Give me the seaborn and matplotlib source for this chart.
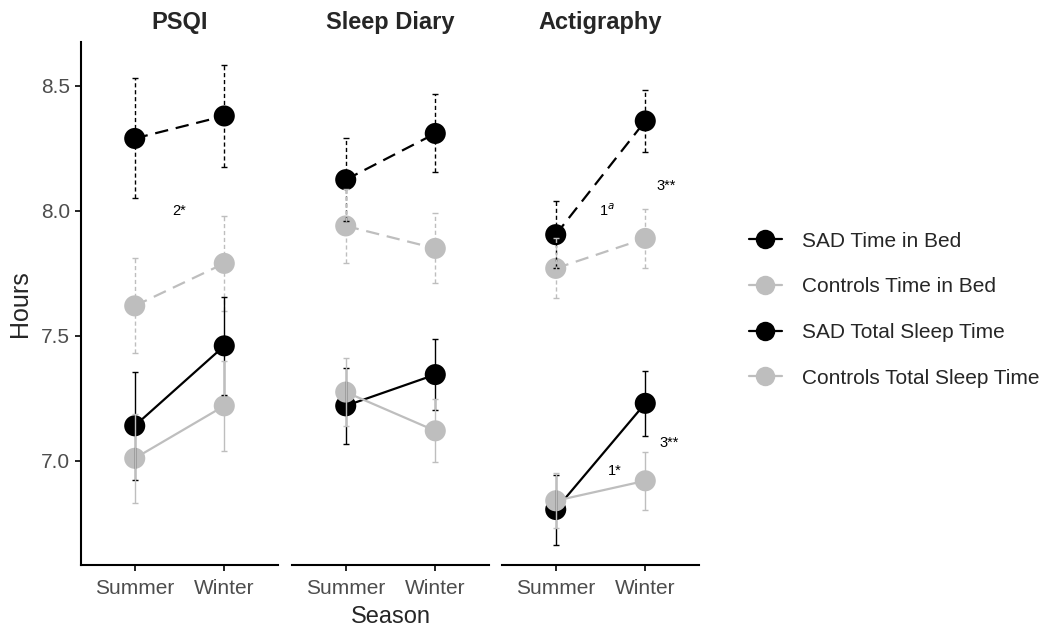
import numpy as np
import pandas as pd
import matplotlib
matplotlib.use("Agg")
import matplotlib.pyplot as plt
from matplotlib.lines import Line2D
import seaborn as sns

# data (hours), rows = series, cols = Summer/Winter
seasons = ["Summer", "Winter"]
measures = ["PSQI", "Sleep Diary", "Actigraphy"]
series = ["SAD Time in Bed", "Controls Time in Bed",
          "SAD Total Sleep Time", "Controls Total Sleep Time"]

psqi_mean = [[8.29, 8.38], [7.62, 7.79], [7.14, 7.46], [7.01, 7.22]]
psqi_err = [[0.24, 0.205], [0.19, 0.19], [0.216, 0.195], [0.179, 0.179]]
diary_mean = [[8.125, 8.31], [7.94, 7.85], [7.22, 7.345], [7.275, 7.12]]
diary_err = [[0.167, 0.156], [0.148, 0.14], [0.152, 0.143], [0.136, 0.126]]
acti_mean = [[7.905, 8.36], [7.77, 7.89], [6.805, 7.23], [6.84, 6.92]]
acti_err = [[0.135, 0.125], [0.12, 0.117], [0.14, 0.13], [0.11, 0.115]]

# significance notes: panel, x, y, label
notes = [("PSQI", 0.5, 8.0, "2*"),
         ("Actigraphy", 0.57, 8.0, "1$^{a}$"),
         ("Actigraphy", 1.23, 8.1, "3**"),
         ("Actigraphy", 0.66, 6.96, "1*"),
         ("Actigraphy", 1.27, 7.07, "3**")]

means = {"PSQI": psqi_mean, "Sleep Diary": diary_mean, "Actigraphy": acti_mean}
errs = {"PSQI": psqi_err, "Sleep Diary": diary_err, "Actigraphy": acti_err}

rows = []
for m in measures:
    for i, s in enumerate(series):
        for j, season in enumerate(seasons):
            rows.append({"Measure": m, "Series": s, "Season": season, "x": j,
                         "Hours": means[m][i][j], "err": errs[m][i][j]})
df = pd.DataFrame(rows)

colors = {s: ("black" if s.startswith("SAD") else "#BEBEBE") for s in series}
dashed = {s: ("Time in Bed" in s) for s in series}

sns.set_style("white")
plt.rcParams["font.family"] = ["Liberation Sans", "DejaVu Sans"]

fig = plt.figure(figsize=(10.5, 6.32), dpi=100)
bottom, height = 1 - 565 / 632, (565 - 42) / 632
lefts = [81, 292, 502]
width = 197 / 1050
for k, m in enumerate(measures):
    ax = fig.add_axes([lefts[k] / 1050, bottom, width, height])
    sub = df[df["Measure"] == m]
    # lines
    for s in series:
        d = sub[sub["Series"] == s]
        sns.lineplot(data=d, x="x", y="Hours", ax=ax, color=colors[s],
                     linestyle=(0, (6, 3.5)) if dashed[s] else "-",
                     linewidth=1.6, legend=False, zorder=2)
    # points
    for s in series:
        d = sub[sub["Series"] == s]
        sns.scatterplot(data=d, x="x", y="Hours", ax=ax, color=colors[s],
                        s=230, edgecolor="none", legend=False, zorder=3)
    # error bars
    for s in series:
        d = sub[sub["Series"] == s]
        eb = ax.errorbar(d["x"], d["Hours"], yerr=d["err"], fmt="none",
                         ecolor=colors[s], elinewidth=1.0, capsize=2,
                         capthick=1.0, zorder=4)
        if dashed[s]:
            eb[2][0].set_linestyle((0, (3, 2)))
    for (pm, nx, ny, txt) in notes:
        if pm == m:
            ax.text(nx, ny, txt, ha="center", va="center", fontsize=10.5,
                    color="black", zorder=5)

    ax.set_xlim(-0.6, 1.6)
    ax.set_ylim(6.583, 8.676)
    ax.set_xticks([0, 1])
    ax.set_xticklabels(seasons)
    ax.set_xlabel("")
    ax.set_ylabel("")
    ax.set_title(m, fontsize=17, fontweight="bold", pad=9)
    for sp in ["top", "right"]:
        ax.spines[sp].set_visible(False)
    ax.spines["bottom"].set_linewidth(1.5)
    ax.spines["bottom"].set_color("black")
    ax.tick_params(axis="x", length=4, width=1.2, color="black",
                   labelsize=15, labelcolor="#4D4D4D", pad=6,
                   bottom=True)
    if k == 0:
        ax.spines["left"].set_linewidth(1.5)
        ax.spines["left"].set_color("black")
        ax.set_yticks([7.0, 7.5, 8.0, 8.5])
        ax.set_yticklabels(["7.0", "7.5", "8.0", "8.5"])
        ax.tick_params(axis="y", length=4, width=1.2, color="black",
                       labelsize=15, labelcolor="#4D4D4D", pad=4, left=True)
        ax.set_ylabel("Hours", fontsize=18, labelpad=6)
    else:
        ax.spines["left"].set_visible(False)
        ax.set_yticks([])
    if k == 1:
        ax.set_xlabel("Season", fontsize=17, labelpad=6)

handles = [Line2D([0], [0], color=colors[s], linewidth=1.6, marker="o",
                  markersize=14, markeredgecolor="none") for s in series]
fig.legend(handles, series, loc="center left", bbox_to_anchor=(0.695, 0.51),
           frameon=False, fontsize=15, handlelength=1.6, labelspacing=1.28,
           handletextpad=0.96)

fig.savefig("out.png", dpi=100)
